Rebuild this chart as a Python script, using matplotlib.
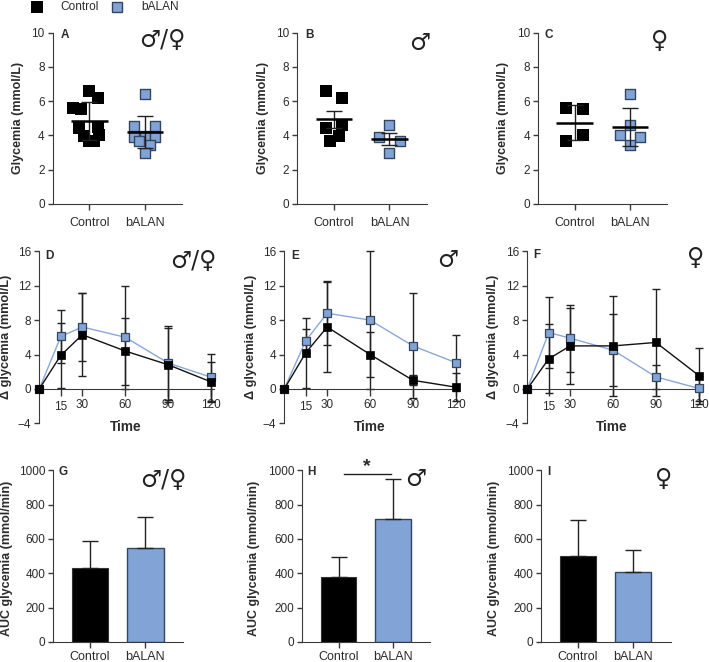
import matplotlib
matplotlib.use('Agg')
import matplotlib.pyplot as plt

W, H = 709, 662
BLUE = '#82a3d6'
EDGE = '#34465c'
DARK = '#2b2b2b'
MALE_FEMALE = '\u2642/\u2640'
MALE = '\u2642'
FEMALE = '\u2640'

groups = ['Control', 'bALAN']

# scatter panels: value, sideways offset of the point in the swarm
a_ctrl = [6.62, 6.2, 5.6, 5.55, 4.43, 4.5, 3.95, 4.0, 3.65, 3.7]
a_ctrl_off = [0.0, 0.15, -0.3, -0.15, -0.19, 0.15, -0.09, 0.18, 0.0, 0.09]
a_balan = [6.45, 4.55, 4.55, 3.95, 3.9, 3.9, 3.7, 3.45, 3.0]
a_balan_off = [0.0, -0.19, 0.19, 0.0, 0.19, -0.19, -0.1, 0.1, 0.0]
a_mean = [4.85, 4.2]
a_err = [1.1, 0.95]

b_ctrl = [6.62, 6.2, 4.43, 4.6, 3.95, 3.7]
b_ctrl_off = [-0.15, 0.15, -0.14, 0.15, 0.09, -0.08]
b_balan = [4.6, 3.9, 3.7, 3.0]
b_balan_off = [0.0, -0.19, 0.19, 0.0]
b_mean = [4.95, 3.8]
b_err = [0.5, 0.35]

c_ctrl = [5.6, 5.55, 4.0, 3.65]
c_ctrl_off = [-0.15, 0.15, 0.15, -0.15]
c_balan = [6.4, 4.6, 4.0, 3.9, 3.45]
c_balan_off = [0.0, 0.0, -0.18, 0.18, 0.0]
c_mean = [4.75, 4.5]
c_err = [1.03, 1.13]

# time course panels
times = [0, 15, 30, 60, 90, 120]
d_ctrl = [0, 3.9, 6.3, 4.4, 2.8, 0.8]
d_ctrl_err = [0, 3.8, 4.8, 3.9, 4.3, 2.3]
d_balan = [0, 6.1, 7.2, 6.0, 3.0, 1.35]
d_balan_err = [0, 3.1, 3.9, 6.0, 4.3, 2.75]

e_ctrl = [0, 4.2, 7.2, 4.0, 1.0, 0.2]
e_ctrl_err = [0, 4.1, 5.2, 2.6, 0.6, 1.6]
e_balan = [0, 5.6, 8.8, 8.0, 5.0, 3.05]
e_balan_err = [0, 1.4, 3.7, 8.0, 6.1, 3.25]

f_ctrl = [0, 3.5, 5.0, 5.0, 5.4, 1.55]
f_ctrl_err = [0, 4.0, 4.4, 5.8, 6.2, 3.25]
f_balan = [0, 6.55, 5.9, 4.5, 1.4, 0.05]
f_balan_err = [0, 4.15, 3.9, 4.2, 1.4, 1.4]

# AUC bars
g_auc = [430, 545]
g_err = [158, 182]
h_auc = [380, 718]
h_err = [117, 230]
i_auc = [503, 408]
i_err = [205, 127]

plt.rcParams['font.family'] = ['Liberation Sans', 'DejaVu Sans']
plt.rcParams['font.size'] = 9
plt.rcParams['text.color'] = DARK
plt.rcParams['axes.edgecolor'] = '#3a3a3a'
plt.rcParams['xtick.color'] = '#3a3a3a'
plt.rcParams['ytick.color'] = '#3a3a3a'
plt.rcParams['xtick.labelcolor'] = DARK
plt.rcParams['ytick.labelcolor'] = DARK

fig = plt.figure(figsize=(W / 100, H / 100), dpi=100)


def px_axes(left, right, top, bottom):
    ax = fig.add_axes([left / W, 1 - bottom / H, (right - left) / W, (bottom - top) / H])
    ax.patch.set_alpha(0)
    ax.spines['top'].set_visible(False)
    ax.spines['right'].set_visible(False)
    return ax


def px_text(x, y, s, **kw):
    kw.setdefault('ha', 'center')
    kw.setdefault('va', 'center')
    fig.text(x / W, 1 - y / H, s, **kw)


def plot_scatter(box, ctrl, ctrl_off, balan, balan_off, mean, err):
    ax = px_axes(*box)
    ax.scatter([1 + o for o in ctrl_off], ctrl, s=66, marker='s', color='black', linewidths=0, zorder=2)
    ax.scatter([2 + o for o in balan_off], balan, s=56, marker='s', color=BLUE, edgecolors=EDGE, linewidths=1, zorder=2)
    for i in range(2):
        ax.errorbar(i + 1, mean[i], yerr=err[i], color='#222222', lw=1, capsize=6, capthick=1, zorder=3)
        ax.plot([i + 0.67, i + 1.33], [mean[i], mean[i]], color='black', lw=1.8, zorder=3, solid_capstyle='butt')
    ax.set_xlim(0.34, 2.67)
    ax.set_ylim(0, 10)
    ax.set_xticks([1, 2])
    ax.set_xticklabels(groups)
    ax.set_yticks(range(0, 11, 2))
    ax.tick_params(axis='x', length=4, width=1, labelsize=9, pad=5)
    ax.tick_params(axis='y', length=3.8, width=1, labelsize=8.5, pad=2)
    return ax


def plot_time(box, ctrl, ctrl_err, balan, balan_err):
    ax = px_axes(*box)
    ax.errorbar(times, balan, yerr=balan_err, color='#222222', lw=1, capsize=2.6, capthick=1,
                fmt='none', zorder=2, clip_on=False)
    ax.errorbar(times, ctrl, yerr=ctrl_err, color='#222222', lw=1, capsize=2.6, capthick=1,
                fmt='none', zorder=2, clip_on=False)
    ax.plot(times, balan, color='#8aa8d6', lw=1, marker='s', ms=5.2, mfc=BLUE, mec=EDGE, mew=0.9,
            zorder=3, clip_on=False)
    ax.plot(times, ctrl, color='#111111', lw=1, marker='s', ms=5.2, mfc='black', mec='black', mew=0.5,
            zorder=4, clip_on=False)
    ax.set_xlim(0, 121.5)
    ax.set_ylim(-4, 16)
    ax.spines['bottom'].set_position(('data', 0))
    ax.set_xticks(times[1:])
    ax.set_yticks(range(-4, 17, 4))
    ax.tick_params(axis='x', length=5, width=1, labelsize=8.5, pad=2.5)
    ax.tick_params(axis='y', length=3.8, width=1, labelsize=8.5, pad=2)
    ax.xaxis.get_major_ticks()[0].set_pad(4)
    return ax


def plot_auc(box, vals, err):
    ax = px_axes(*box)
    ax.bar([1], vals[0], width=0.655, color='black', edgecolor='#333333', linewidth=0.8)
    ax.bar([2], vals[1], width=0.655, color=BLUE, edgecolor=EDGE, linewidth=1)
    ax.errorbar([1, 2], vals, yerr=[[0, 0], err], fmt='none', color='#222222', lw=1, capsize=6, capthick=1)
    ax.set_xlim(0.335, 2.68)
    ax.set_ylim(0, 1000)
    ax.set_xticks([1, 2])
    ax.set_xticklabels(groups)
    ax.set_yticks(range(0, 1001, 200))
    ax.tick_params(axis='x', length=4.5, width=1, labelsize=9, pad=2)
    ax.tick_params(axis='y', length=3.8, width=1, labelsize=8.5, pad=2)
    return ax


# top row
plot_scatter((52.7, 182, 32.7, 204), a_ctrl, a_ctrl_off, a_balan, a_balan_off, a_mean, a_err)
plot_scatter((297.3, 426.7, 32.7, 204), b_ctrl, b_ctrl_off, b_balan, b_balan_off, b_mean, b_err)
plot_scatter((538.3, 666.7, 32.7, 204), c_ctrl, c_ctrl_off, c_balan, c_balan_off, c_mean, c_err)

# middle row
plot_time((39.3, 213.5, 251.3, 423.3), d_ctrl, d_ctrl_err, d_balan, d_balan_err)
plot_time((284.3, 458, 251.3, 423.3), e_ctrl, e_ctrl_err, e_balan, e_balan_err)
plot_time((527.3, 701, 251.3, 423.3), f_ctrl, f_ctrl_err, f_balan, f_balan_err)

# bottom row
plot_auc((53.3, 183, 470.3, 642), g_auc, g_err)
ax_h = plot_auc((302.3, 430, 470.3, 642), h_auc, h_err)
plot_auc((541.3, 670.7, 470.3, 642), i_auc, i_err)
ax_h.plot([1.1, 1.96], [980, 980], color='#222222', lw=1)
ax_h.text(1.52, 975, '*', ha='center', va='bottom', fontsize=14, fontweight='bold', clip_on=False)

# axis titles
for x in [18, 263, 503]:
    px_text(x, 118, 'Glycemia (mmol/L)', rotation=90, fontsize=9, fontweight='bold')
for x in [6, 251, 493]:
    px_text(x, 337, '\u0394 glycemia (mmol/L)', rotation=90, fontsize=9.2, fontweight='bold')
for x in [7.5, 254, 494]:
    px_text(x, 558, 'AUC glycemia (mmol/min)', rotation=90, fontsize=9, fontweight='bold')
for x in [125.7, 370, 612]:
    px_text(x, 426.7, 'Time', fontsize=9.8, fontweight='bold')

# panel letters
letters = ['A', 'B', 'C', 'D', 'E', 'F', 'G', 'H', 'I']
letter_x = [65, 309, 549, 49, 295, 537, 62.7, 311, 548.7]
letter_y = [35, 35, 35, 256, 256, 255, 472, 472, 472]
for s, x, y in zip(letters, letter_x, letter_y):
    px_text(x, y, s, fontsize=8.5, fontweight='bold')

# sex symbols
sym_text = [MALE_FEMALE, MALE, FEMALE, MALE_FEMALE, MALE, FEMALE, MALE_FEMALE, MALE, FEMALE]
sym_x = [162, 420, 660, 193, 448, 696, 163, 415.7, 664]
sym_y = [40, 43, 41, 261, 260, 258, 480, 479, 479]
for s, x, y in zip(sym_text, sym_x, sym_y):
    px_text(x, y, s, fontsize=17, family='DejaVu Sans', color='#222222')

# legend on top
fig.add_artist(plt.Line2D([36.5 / W], [1 - 6.5 / H], marker='s', ms=8.2, mfc='black', mec='black', mew=0))
fig.add_artist(plt.Line2D([116.5 / W], [1 - 6.5 / H], marker='s', ms=7.4, mfc=BLUE, mec=EDGE, mew=1))
px_text(80, 7, 'Control', fontsize=8.6)
px_text(160, 7, 'bALAN', fontsize=8.6)

plt.savefig('out.png', dpi=100)
